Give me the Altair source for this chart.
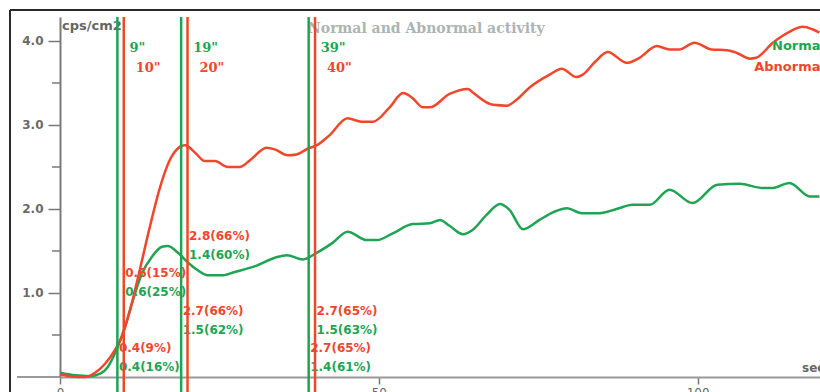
import altair as alt
import pandas as pd

# ---- data ----
abn_t = [0.0, 1.6, 3.9, 5.5, 7.1, 8.6, 9.7, 11.0, 12.5, 14.1, 15.7, 17.2, 18.8, 19.6, 21.2,
         22.7, 24.3, 26.3, 28.2, 29.8, 32.4, 33.7, 35.7, 37.1, 38.9, 40.3, 42.3, 45.1, 47.3,
         49.1, 51.7, 53.8, 55.3, 56.9, 58.0, 61.1, 64.0, 64.7, 67.9, 70.1, 71.6, 73.7, 76.8,
         78.7, 81.0, 82.0, 83.9, 85.9, 88.9, 90.9, 93.6, 95.6, 97.2, 99.5, 102.2, 104.6,
         106.1, 108.2, 109.2, 111.8, 114.4, 116.5, 118.0, 119.1]
abn_v = [0.03, 0.01, 0.00, 0.05, 0.16, 0.32, 0.48, 0.80, 1.27, 1.79, 2.26, 2.58, 2.74, 2.76, 2.67,
         2.57, 2.57, 2.50, 2.50, 2.58, 2.73, 2.71, 2.64, 2.65, 2.72, 2.76, 2.88, 3.08, 3.04,
         3.04, 3.21, 3.38, 3.32, 3.21, 3.21, 3.37, 3.43, 3.39, 3.24, 3.23, 3.30, 3.45, 3.60,
         3.67, 3.57, 3.60, 3.75, 3.87, 3.74, 3.80, 3.94, 3.90, 3.90, 3.98, 3.90, 3.89,
         3.86, 3.79, 3.80, 3.98, 4.11, 4.17, 4.14, 4.10]

norm_t = [0.0, 2.4, 4.7, 6.3, 7.5, 8.6, 9.1, 10.2, 11.3, 12.9, 14.4, 16.0, 16.9, 18.5, 20.1,
          21.6, 23.2, 25.4, 27.4, 30.6, 33.7, 35.6, 38.1, 40.3, 42.8, 45.1, 48.1, 49.7, 52.2,
          55.3, 58.0, 59.6, 61.1, 63.2, 64.7, 66.9, 69.0, 70.5, 72.6, 75.2, 77.3, 79.5, 81.8,
          84.6, 87.3, 89.8, 92.5, 95.6, 99.2, 103.1, 106.6, 110.2, 111.8, 114.4, 117.6, 119.1]
norm_v = [0.05, 0.02, 0.01, 0.04, 0.12, 0.28, 0.37, 0.60, 0.88, 1.24, 1.43, 1.55, 1.56, 1.48, 1.36,
          1.27, 1.21, 1.21, 1.25, 1.32, 1.42, 1.45, 1.40, 1.48, 1.60, 1.73, 1.63, 1.63, 1.71,
          1.82, 1.83, 1.87, 1.80, 1.70, 1.75, 1.93, 2.06, 1.99, 1.76, 1.87, 1.96, 2.01, 1.95,
          1.95, 2.00, 2.05, 2.05, 2.23, 2.07, 2.29, 2.30, 2.25, 2.25, 2.31, 2.15, 2.15]

marker_t = [9, 10, 19, 20, 39, 40]
marker_series = ["Normal", "Abnormal", "Normal", "Abnormal", "Normal", "Abnormal"]
marker_text = ['9"', '10"', '19"', '20"', '39"', '40"']

label_t = [20, 20, 10, 10, 19, 19, 40, 40, 39, 39, 9, 9]
label_text = ["2.8(66%)", "1.4(60%)", "0.6(15%)", "0.6(25%)", "2.7(66%)", "1.5(62%)",
              "2.7(65%)", "1.5(63%)", "2.7(65%)", "1.4(61%)", "0.4(9%)", "0.4(16%)"]
label_series = ["Abnormal", "Normal"] * 6
label_slot = [0, 1, 2, 3, 4, 5, 4, 5, 6, 7, 6, 7]

y_major = [1.0, 2.0, 3.0, 4.0]
y_minor = [0.5, 1.5, 2.5, 3.5]
x_ticks = [0, 50, 100]

series_names = ["Normal", "Abnormal"]
GREEN = "#1ea453"
RED = "#ef472c"

# ---- tables ----
curves = pd.concat([
    pd.DataFrame({"t": norm_t, "v": norm_v, "series": "Normal"}),
    pd.DataFrame({"t": abn_t, "v": abn_v, "series": "Abnormal"}),
])
markers = pd.DataFrame({"t": marker_t, "series": marker_series, "text": marker_text})
labels = pd.DataFrame({"t": label_t, "text": label_text, "series": label_series, "slot": label_slot})
minor = pd.DataFrame({"v": y_minor})

xscale = alt.Scale(domain=[0, 119.2], nice=False, zero=False)
yscale = alt.Scale(domain=[0, 4.2857], nice=False)
cscale = alt.Scale(domain=series_names, range=[GREEN, RED])

xaxis = alt.Axis(values=x_ticks, tickSize=7, labelPadding=3, labelFont="DejaVu Sans",
                 labelFontSize=12, labelColor="#666", domainColor="#999", domainWidth=2,
                 tickColor="#777", tickWidth=1.5, title=None, grid=False, labelFlush=False)
yaxis = alt.Axis(values=y_major, format=".1f", tickSize=12, labelPadding=5,
                 labelFont="DejaVu Sans", labelFontWeight="bold", labelFontSize=12,
                 labelColor="#6a6a6a", domainColor="#7a7a7a", domainWidth=2,
                 tickColor="#7a7a7a", tickWidth=1.5, title=None, grid=False)

lines = alt.Chart(curves).mark_line(interpolate="monotone", strokeWidth=2.5).encode(
    x=alt.X("t:Q", scale=xscale, axis=xaxis),
    y=alt.Y("v:Q", scale=yscale, axis=yaxis),
    color=alt.Color("series:N", scale=cscale, legend=None),
    detail="series:N",
)

minor_ticks = alt.Chart(minor).mark_rule(color="#7a7a7a", strokeWidth=1.5).encode(
    y=alt.Y("v:Q", scale=yscale), x=alt.value(-8), x2=alt.value(0)
)

vlines = alt.Chart(markers).mark_rule(strokeWidth=2.5).encode(
    x=alt.X("t:Q", scale=xscale),
    y=alt.value(0), y2=alt.value(380),
    color=alt.Color("series:N", scale=cscale, legend=None),
)

vtext = alt.Chart(markers).transform_calculate(
    py="datum.series == 'Normal' ? 35 : 55"
).mark_text(align="left", baseline="alphabetic", dx=12, font="DejaVu Serif",
            fontWeight="bold", fontSize=13).encode(
    x=alt.X("t:Q", scale=xscale),
    y=alt.Y("py:Q", scale=None),
    text="text:N",
    color=alt.Color("series:N", scale=cscale, legend=None),
)

vals = alt.Chart(labels).transform_calculate(
    py="219 + datum.slot * 18.7"
).mark_text(align="left", baseline="middle", dx=1.5, font="DejaVu Sans",
            fontWeight="bold", fontSize=12).encode(
    x=alt.X("t:Q", scale=xscale),
    y=alt.Y("py:Q", scale=None),
    text="text:N",
    color=alt.Color("series:N", scale=cscale, legend=None),
)

def label(txt, x, y, color, font, size, align="left", weight="bold"):
    return alt.Chart(pd.DataFrame({"text": [txt]})).mark_text(
        align=align, baseline="alphabetic", font=font, fontSize=size,
        fontWeight=weight, color=color
    ).encode(text="text:N", x=alt.value(x), y=alt.value(y))

title = label("Normal and Abnormal activity", 248, 16, "#abb5b3", "DejaVu Serif", 14)
unit = label("cps/cm2", 2, 13, "#666666", "DejaVu Sans", 13)
sec = label("sec", 742, 355, "#666666", "DejaVu Sans", 12)
leg_n = label("Normal", 765, 33, GREEN, "DejaVu Sans", 13, align="right")
leg_a = label("Abnormal", 765, 54, RED, "DejaVu Sans", 13, align="right")

one = pd.DataFrame({"k": [0]})
x_ext = alt.Chart(one).mark_rule(color="#999", strokeWidth=2).encode(
    x=alt.value(-43), x2=alt.value(0), y=alt.value(360))
frame_l = alt.Chart(one).mark_rule(color="#2a2a2a", strokeWidth=2).encode(
    x=alt.value(-50), y=alt.value(-7), y2=alt.value(380))
frame_t = alt.Chart(one).mark_rule(color="#2a2a2a", strokeWidth=2).encode(
    x=alt.value(-50), x2=alt.value(770), y=alt.value(-7))

chart = alt.layer(
    lines, frame_l, frame_t, x_ext, minor_ticks, title, unit, sec, vals,
    vtext, vlines, leg_n, leg_a
).properties(
    width=760, height=360,
    padding={"left": 60, "top": 17, "right": 0, "bottom": 15},
    autosize=alt.AutoSizeParams(type="none"),
    background="white",
).configure_view(stroke=None)

chart.save("out.html", embed_options={"renderer": "svg", "actions": False})
